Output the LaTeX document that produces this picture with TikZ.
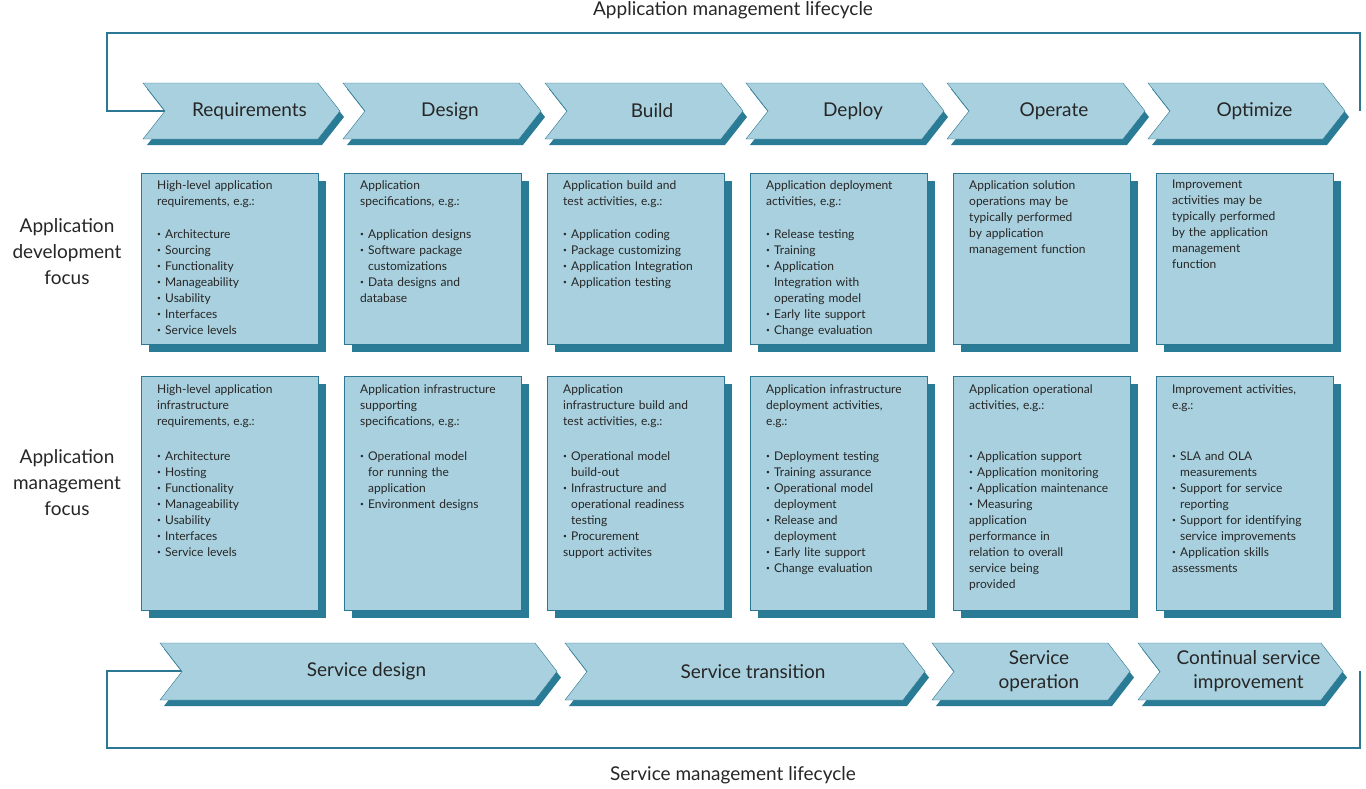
\documentclass[tikz,border=0pt]{standalone}
\usepackage{fontspec}
\setmainfont{Lato}
\usetikzlibrary{positioning}
\definecolor{chevfill}{HTML}{A9D0DE}
\definecolor{chevline}{HTML}{2C7791}
\definecolor{chevshade}{HTML}{2A7B95}
\definecolor{textgrey}{HTML}{262626}
\newcommand\bpt{\makebox[8pt][l]{\raisebox{1.5pt}{\scalebox{0.55}{\textbullet}}}}
\newcommand\bitem[1]{\par\hangindent=8pt\hangafter=1\noindent\bpt#1}
% chevron: name, left x, right x, top y, bottom y, label
\newcommand\chev[6]{%
  \fill[chevshade] (#2+4,#4+6) -- (#3-22+4,#4+6) -- (#3+4,{(#4+#5)/2+6}) -- (#3-22+4,#5+6)
    -- (#2+4,#5+6) -- (#2+22+4,{(#4+#5)/2+6}) -- cycle;
  \draw[chevline,fill=chevfill] (#2,#4) -- (#3-22,#4) -- (#3,{(#4+#5)/2}) -- (#3-22,#5)
    -- (#2,#5) -- (#2+22,{(#4+#5)/2}) -- cycle;
  \coordinate (#1-notch) at (#2+22,{(#4+#5)/2});
  \coordinate (#1-tip) at (#3,{(#4+#5)/2});
  \node[chevlabel] (#1) at ({(#2+#3)/2+8},{(#4+#5)/2}) {#6};}
% box: name, left x, top y, bottom y
\newcommand\tbox[4]{%
  \fill[chevshade] (#2+8,#3+8) rectangle (#2+185,#4+8);
  \draw[chevline,fill=chevfill] (#2,#3) rectangle (#2+177,#4);
  \coordinate (#1) at (#2,#3);}
\begin{document}
\begin{tikzpicture}[x=1pt,y=-1pt,
  chevlabel/.style={font=\fontsize{19}{24}\selectfont,text=textgrey,align=center},
  sidelabel/.style={font=\fontsize{19}{26}\selectfont,text=textgrey,align=center},
  boxtext/.style={font=\fontsize{12}{16}\selectfont,text=textgrey,text width=170pt,
    anchor=north west,inner sep=0pt,align=left},
  loop/.style={chevline,line width=1.1pt}]
\useasboundingbox (0,0) rectangle (1366,788);
\node[chevlabel] (toptitle) at (733,10) {Application management lifecycle};
\node[chevlabel] (bottitle) at (733,775) {Service management lifecycle};
\node[sidelabel] (devfocus) at (67,252) {Application\\development\\focus};
\node[sidelabel] (mgmtfocus) at (67,483) {Application\\management\\focus};

% top loop
\coordinate (tl1) at (1360,111);
\coordinate (tl2) at (1360,33);
\coordinate (tl3) at (107,33);
\coordinate (tl4) at (107,111);
\draw[loop] (tl1) -- (tl2) -- (tl3) -- (tl4) -- (165,111);
% bottom loop
\coordinate (bl1) at (1360,671);
\coordinate (bl2) at (1360,748);
\coordinate (bl3) at (107,748);
\coordinate (bl4) at (107,671);
\draw[loop] (bl1) -- (bl2) -- (bl3) -- (bl4) -- (182,671);

% phase chevrons
\chev{req}{143}{340}{83}{139}{Requirements}
\chev{des}{343}{541}{83}{139}{Design}
\chev{bld}{545}{743}{83}{139}{Build}
\chev{dep}{746}{944}{83}{139}{Deploy}
\chev{opr}{947}{1145}{83}{139}{Operate}
\chev{opt}{1148}{1345}{83}{139}{Optimize}

% lifecycle chevrons
\chev{sdes}{160}{557}{643}{700}{Service design}
\chev{stra}{565}{925}{643}{700}{Service transition}
\chev{sopr}{932}{1130}{643}{700}{Service\\operation}
\chev{csi}{1138}{1343}{643}{700}{Continual service\\improvement}

% boxes
\foreach \bx/\bn in {141/a,344/b,547/c,750/d,953/e,1156/f}
{
  \tbox{top\bn}{\bx}{173}{344}
  \tbox{bot\bn}{\bx}{376}{610}
}

% development focus texts
\node[boxtext] (ia1) at (157,180) {High-level application\\requirements, e.g.:};
\node[boxtext] (ba1) at (157,222) {\bitem{Architecture}\bitem{Sourcing}\bitem{Functionality}\bitem{Manageability}\bitem{Usability}\bitem{Interfaces}\bitem{Service levels}};
\node[boxtext] (ib1) at (360,180) {Application\\specifications, e.g.:};
\node[boxtext] (bb1) at (360,222) {\bitem{Application designs}\bitem{Software package\newline customizations}\bitem{Data designs and\newline database}};
\node[boxtext] (ic1) at (563,180) {Application build and\\test activities, e.g.:};
\node[boxtext] (bc1) at (563,222) {\bitem{Application coding}\bitem{Package customizing}\bitem{Application Integration}\bitem{Application testing}};
\node[boxtext] (id1) at (766,180) {Application deployment\\activities, e.g.:};
\node[boxtext] (bd1) at (766,222) {\bitem{Release testing}\bitem{Training}\bitem{Application\newline Integration with\newline operating model}\bitem{Early lite support}\bitem{Change evaluation}};
\node[boxtext] (ie1) at (969,180) {Application solution\\operations may be\\typically performed\\by application\\management function};
\node[boxtext] (if1) at (1172,180) {Improvement\\activities may be\\typically performed\\by the application\\management\\function};

% management focus texts
\node[boxtext] (ia2) at (157,384) {High-level application\\infrastructure\\requirements, e.g.:};
\node[boxtext] (ba2) at (157,444) {\bitem{Architecture}\bitem{Hosting}\bitem{Functionality}\bitem{Manageability}\bitem{Usability}\bitem{Interfaces}\bitem{Service levels}};
\node[boxtext] (ib2) at (360,384) {Application infrastructure\\supporting\\specifications, e.g.:};
\node[boxtext] (bb2) at (360,444) {\bitem{Operational model\newline for running the\newline application}\bitem{Environment designs}};
\node[boxtext] (ic2) at (563,384) {Application\\infrastructure build and\\test activities, e.g.:};
\node[boxtext] (bc2) at (563,444) {\bitem{Operational model\newline build-out}\bitem{Infrastructure and\newline operational readiness\newline testing}\bitem{Procurement\newline support activites}};
\node[boxtext] (id2) at (766,384) {Application infrastructure\\deployment activities,\\e.g.:};
\node[boxtext] (bd2) at (766,444) {\bitem{Deployment testing}\bitem{Training assurance}\bitem{Operational model\newline deployment}\bitem{Release and\newline deployment}\bitem{Early lite support}\bitem{Change evaluation}};
\node[boxtext] (ie2) at (969,384) {Application operational\\activities, e.g.:};
\node[boxtext] (be2) at (969,444) {\bitem{Application support}\bitem{Application monitoring}\bitem{Application maintenance}\bitem{Measuring\newline application\newline performance in\newline relation to overall\newline service being\newline provided}};
\node[boxtext] (if2) at (1172,384) {Improvement activities,\\e.g.:};
\node[boxtext] (bf2) at (1172,444) {\bitem{SLA and OLA\newline measurements}\bitem{Support for service\newline reporting}\bitem{Support for identifying\newline service improvements}\bitem{Application skills\newline assessments}};
\end{tikzpicture}
\end{document}
